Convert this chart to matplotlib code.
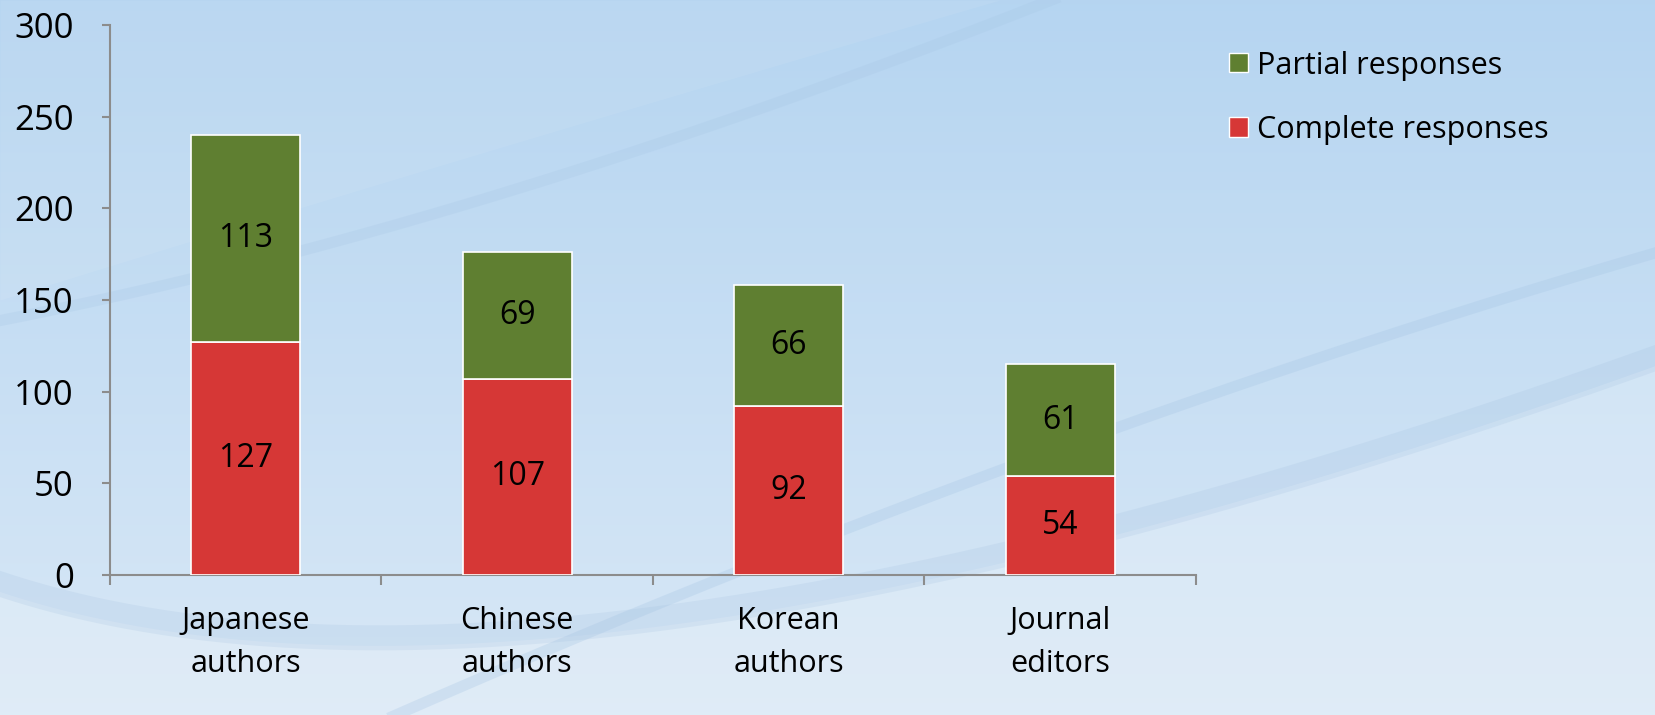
import numpy as np
import matplotlib
matplotlib.use("Agg")
import matplotlib.pyplot as plt
from matplotlib.patches import Patch

plt.rcParams['font.family'] = ['Open Sans', 'DejaVu Sans']

# data
categories = ["Japanese\nauthors", "Chinese\nauthors", "Korean\nauthors", "Journal\neditors"]
complete = [127, 107, 92, 54]
partial = [113, 69, 66, 61]
y_ticks = [0, 50, 100, 150, 200, 250, 300]

GREEN = "#5F7F31"
RED = "#D63736"
AXIS_GREY = "#8C8C8C"

W, H = 1656, 715
fig = plt.figure(figsize=(W / 100, H / 100), dpi=100)

# --- background: soft blue gradient with a few faint swooshes
bg = fig.add_axes([0, 0, 1, 1], zorder=-10)
bg.set_xlim(0, W)
bg.set_ylim(H, 0)
bg.axis("off")
top = np.array([0.712, 0.835, 0.945])
bottom = np.array([0.850, 0.910, 0.965])
t = np.linspace(0, 1, 256)[:, None, None]
grad = top * (1 - t) + bottom * t
bg.imshow(np.repeat(grad, 2, axis=1), extent=[0, W, H, 0], aspect="auto")


def bezier(p0, p1, p2, n=200):
    s = np.linspace(0, 1, n)[:, None]
    pts = (1 - s) ** 2 * np.array(p0) + 2 * (1 - s) * s * np.array(p1) + s ** 2 * np.array(p2)
    return pts[:, 0], pts[:, 1]


# upper-left lighter wedge
x, y = bezier((0, 300), (450, 160), (1000, 0))
bg.fill_between(x, 0, y, color="white", alpha=0.07, lw=0)
# faint streaks running off the canvas
x, y = bezier((-50, 330), (500, 230), (1200, -60))
bg.plot(x, y, color="#A3C3E3", alpha=0.22, lw=8)
x, y = bezier((250, 780), (1000, 440), (1700, 240))
bg.plot(x, y, color="#A3C3E3", alpha=0.28, lw=8)
# big lower swoosh: lighter below, soft shadow along its edge
x, y = bezier((-20, 585), (520, 780), (1700, 350))
bg.fill_between(x, y, H + 10, color="white", alpha=0.2, lw=0)
bg.plot(x, y - 8, color="#9CBADB", alpha=0.18, lw=18)

# --- chart
ax = fig.add_axes([110 / W, 1 - 575 / H, (1196 - 110) / W, 550 / H])
ax.patch.set_alpha(0)

pos = np.arange(len(categories))
bar_w = 0.4
ax.bar(pos, complete, width=bar_w, color=RED, edgecolor="white", linewidth=1.2,
       label="Complete responses", zorder=3)
ax.bar(pos, partial, width=bar_w, bottom=complete, color=GREEN, edgecolor="white",
       linewidth=1.2, label="Partial responses", zorder=3)

for i in range(len(categories)):
    ax.text(pos[i], complete[i] / 2, str(complete[i]), ha="center", va="center",
            fontsize=23, color="black", zorder=4)
    ax.text(pos[i], complete[i] + partial[i] / 2, str(partial[i]), ha="center",
            va="center", fontsize=23, color="black", zorder=4)

ax.set_xlim(-0.5, len(categories) - 0.5)
ax.set_ylim(0, 300)
ax.set_yticks(y_ticks)
ax.set_xticks(pos)
ax.set_xticklabels(categories, fontsize=22, linespacing=1.6)
ax.set_xticks(np.arange(-0.5, len(categories)), minor=True)

for side in ["top", "right"]:
    ax.spines[side].set_visible(False)
for side in ["left", "bottom"]:
    ax.spines[side].set_color(AXIS_GREY)
    ax.spines[side].set_linewidth(1.5)

ax.tick_params(axis="y", labelsize=25, length=6, width=1.5, color=AXIS_GREY, pad=20)
ax.tick_params(axis="x", which="major", length=0, pad=22)
ax.tick_params(axis="x", which="minor", length=7, width=1.5, color=AXIS_GREY)

handles = [Patch(facecolor=GREEN, edgecolor="white", label="Partial responses"),
           Patch(facecolor=RED, edgecolor="white", label="Complete responses")]
fig.legend(handles=handles, loc="upper left", bbox_to_anchor=(1202 / W, 1 - 23 / H),
           frameon=False, fontsize=22, handlelength=0.6, handleheight=0.6,
           handletextpad=0.3, labelspacing=1.12)

fig.savefig("out.png", dpi=100)
